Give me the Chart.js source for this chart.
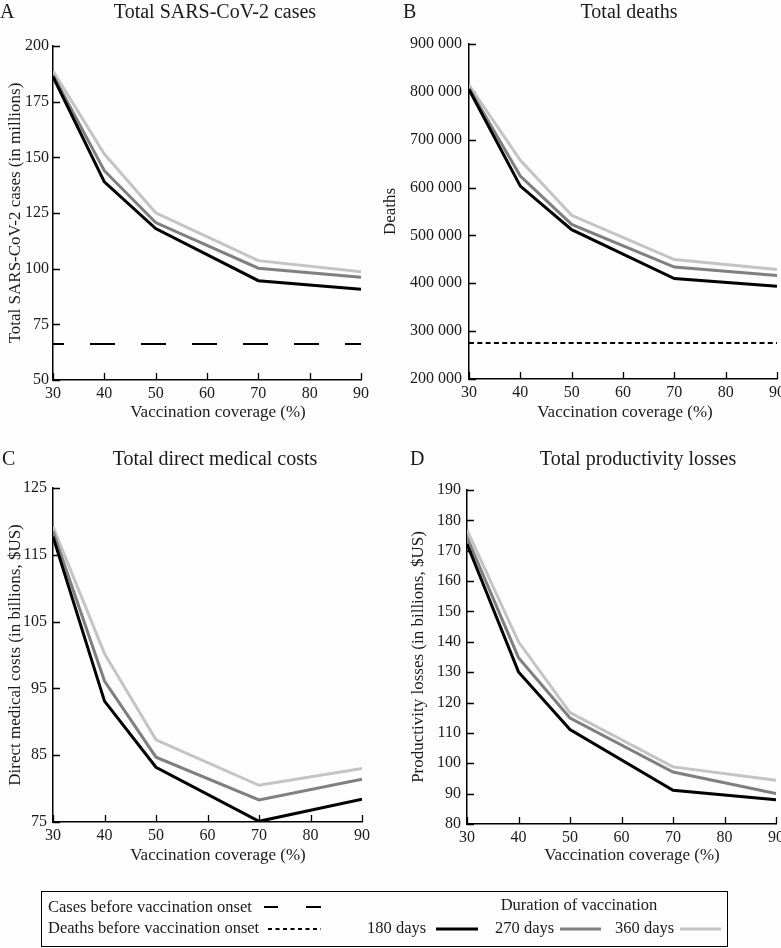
<!DOCTYPE html>
<html>
<head>
<meta charset="utf-8">
<script src="https://cdn.jsdelivr.net/npm/chart.js@4.4.1/dist/chart.umd.min.js"></script>
<style>
  html, body { margin: 0; padding: 0; background: #fdfdfd; overflow: hidden; }
  body { width: 781px; height: 948px; position: relative; font-family: "Liberation Serif", serif; color: #1a1a1a; }
  .panel { position: absolute; left: 0; top: 0; width: 800px; height: 948px; pointer-events: none; }
  #legendBox { position: absolute; left: 41px; top: 891px; width: 685px; height: 54px; border: 1.5px solid #000; }
  .lg { position: absolute; font-size: 16.5px; line-height: 20px; white-space: nowrap; }
  #legendLines { position: absolute; left: 0; top: 0; }
</style>
</head>
<body>
<div class="panel"><canvas id="chartA"></canvas></div>
<div class="panel"><canvas id="chartB"></canvas></div>
<div class="panel"><canvas id="chartC"></canvas></div>
<div class="panel"><canvas id="chartD"></canvas></div>

<div id="legendBox"></div>
<span class="lg" style="left:48px;top:897px">Cases before vaccination onset</span>
<span class="lg" style="left:48px;top:918px">Deaths before vaccination onset</span>
<span class="lg" style="left:579px;top:895px;transform:translateX(-50%)">Duration of vaccination</span>
<span class="lg" style="left:367px;top:918px">180 days</span>
<span class="lg" style="left:495px;top:918px">270 days</span>
<span class="lg" style="left:615px;top:918px">360 days</span>
<svg id="legendLines" width="781" height="948">
  <line x1="264" y1="907" x2="278" y2="907" stroke="#000" stroke-width="2"/>
  <line x1="306" y1="907" x2="321" y2="907" stroke="#000" stroke-width="2"/>
  <line x1="268" y1="929" x2="321" y2="929" stroke="#000" stroke-width="2" stroke-dasharray="4 3.5"/>
  <line x1="436" y1="929" x2="478" y2="929" stroke="#000" stroke-width="3"/>
  <line x1="560" y1="929" x2="601" y2="929" stroke="#7f7f7f" stroke-width="3"/>
  <line x1="680" y1="929" x2="721" y2="929" stroke="#c4c4c4" stroke-width="3"/>
</svg>

<script>
// Vaccination coverage (%) on the x axis
const coverage = [30, 40, 50, 70, 90];

// A: total cases (millions)
const cases180 = [186.2, 139.0, 118.0, 94.6, 90.7];
const cases270 = [187.0, 144.0, 120.7, 100.2, 96.1];
const cases360 = [188.8, 151.5, 125.1, 103.6, 98.6];
const casesBefore = 66.2;

// B: total deaths
const deaths180 = [805000, 603000, 512000, 410000, 394000];
const deaths270 = [808000, 624000, 523000, 434000, 416000];
const deaths360 = [814000, 657000, 542000, 449500, 428600];
const deathsBefore = 275000;

// C: direct medical costs (billions $US)
const medical180 = [117.7, 93.1, 83.2, 75.1, 78.4];
const medical270 = [118.5, 96.1, 84.7, 78.3, 81.4];
const medical360 = [119.2, 100.2, 87.3, 80.5, 83.0];

// D: productivity losses (billions $US)
const prod180 = [172.2, 130.1, 111.1, 91.1, 88.0];
const prod270 = [174.4, 134.8, 114.9, 97.1, 90.0];
const prod360 = [176.8, 140.0, 116.7, 98.8, 94.4];

const FONT = '"Liberation Serif", serif';
const COL180 = '#000000';
const COL270 = '#7f7f7f';
const COL360 = '#c4c4c4';

function pts(vals) {
    return vals.map((v, i) => ({ x: coverage[i], y: v }));
}

function flat(v) {
    return [{ x: coverage[0], y: v }, { x: coverage[coverage.length - 1], y: v }];
}

function seriesLine(label, vals, color) {
    return {
        label: label,
        data: pts(vals),
        borderColor: color,
        borderWidth: 3,
        pointRadius: 0,
        tension: 0,
        fill: false
    };
}

// titles, panel letter, x title and inward ticks
const panelText = {
    id: 'panelText',
    beforeDatasetsDraw(chart) {
        const ctx = chart.ctx;
        const a = chart.chartArea;
        const xs = chart.scales.x, ys = chart.scales.y;
        ctx.save();
        ctx.strokeStyle = '#000';
        ctx.lineWidth = 1.3;
        ctx.beginPath();
        ys.ticks.forEach(t => {
            const y = Math.round(ys.getPixelForValue(t.value)) + 0.5;
            ctx.moveTo(a.left, y);
            ctx.lineTo(a.left + 7, y);
        });
        xs.ticks.forEach(t => {
            const x = Math.round(xs.getPixelForValue(t.value)) + 0.5;
            ctx.moveTo(x, a.bottom);
            ctx.lineTo(x, a.bottom - 7);
        });
        ctx.stroke();
        ctx.restore();
    },
    afterDraw(chart, args, o) {
        const ctx = chart.ctx;
        ctx.save();
        ctx.fillStyle = '#1a1a1a';
        ctx.textBaseline = 'alphabetic';
        ctx.font = '20px ' + FONT;
        ctx.textAlign = 'left';
        ctx.fillText(o.letter, o.letterX, o.titleY);
        ctx.textAlign = 'center';
        ctx.fillText(o.title, o.titleX, o.titleY);
        ctx.font = '17px ' + FONT;
        ctx.fillText('Vaccination coverage (%)', o.xTitleX, o.xTitleY);
        ctx.restore();
    }
};

function spaced(v) {
    return String(v).replace(/\B(?=(\d{3})+(?!\d))/g, ' ');
}

function makePanel(id, p) {
    const padLeft = p.yTitleX - 12;
    new Chart(document.getElementById(id), {
        type: 'line',
        data: { datasets: p.datasets },
        options: {
            responsive: true,
            maintainAspectRatio: false,
            animation: false,
            events: [],
            layout: {
                padding: { left: padLeft, top: p.area.t, right: 800 - p.area.r, bottom: 948 - p.area.b - 30 }
            },
            scales: {
                x: {
                    type: 'linear',
                    min: 30,
                    max: 90,
                    ticks: { stepSize: 10, padding: 4, color: '#1a1a1a', font: { family: FONT, size: 16 }, maxRotation: 0 },
                    grid: { display: false, drawTicks: false },
                    border: { display: true, color: '#000', width: 1.5 },
                    afterFit(s) { s.height = 30; }
                },
                y: {
                    min: p.yMin,
                    max: p.yMax,
                    ticks: {
                        stepSize: p.yStep,
                        padding: p.tickPad,
                        color: '#1a1a1a',
                        font: { family: FONT, size: 16 },
                        callback: p.fmt || (v => v)
                    },
                    grid: { display: false, drawTicks: false },
                    border: { display: true, color: '#000', width: 1.5 },
                    title: {
                        display: true,
                        text: p.yTitle,
                        color: '#1a1a1a',
                        font: { family: FONT, size: 17 },
                        padding: { top: 2, bottom: 0 }
                    },
                    afterFit(s) { s.width = p.area.l - padLeft; }
                }
            },
            plugins: {
                legend: { display: false },
                tooltip: { enabled: false },
                panelText: p.text
            }
        },
        plugins: [panelText]
    });
}

makePanel('chartA', {
    area: { l: 53, t: 46, r: 361, b: 380 },
    yMin: 50, yMax: 200, yStep: 25, tickPad: 4,
    yTitle: 'Total SARS-CoV-2 cases (in millions)', yTitleX: 15,
    text: { letter: 'A', letterX: 0, title: 'Total SARS-CoV-2 cases', titleX: 215, titleY: 17.5, xTitleX: 218, xTitleY: 417 },
    datasets: [
        seriesLine('180 days', cases180, COL180),
        seriesLine('270 days', cases270, COL270),
        seriesLine('360 days', cases360, COL360),
        { label: 'Cases before vaccination onset', data: flat(casesBefore), borderColor: '#000', borderWidth: 2,
          borderDash: [25, 26], borderDashOffset: 14, pointRadius: 0 }
    ]
});

makePanel('chartB', {
    area: { l: 469, t: 44, r: 777, b: 379 },
    yMin: 200000, yMax: 900000, yStep: 100000, tickPad: 7, fmt: spaced,
    yTitle: 'Deaths', yTitleX: 390,
    text: { letter: 'B', letterX: 403, title: 'Total deaths', titleX: 629, titleY: 17.5, xTitleX: 625, xTitleY: 417 },
    datasets: [
        seriesLine('180 days', deaths180, COL180),
        seriesLine('270 days', deaths270, COL270),
        seriesLine('360 days', deaths360, COL360),
        { label: 'Deaths before vaccination onset', data: flat(deathsBefore), borderColor: '#000', borderWidth: 2,
          borderDash: [5, 3.3], pointRadius: 0 }
    ]
});

makePanel('chartC', {
    area: { l: 53, t: 488, r: 362, b: 822 },
    yMin: 75, yMax: 125, yStep: 10, tickPad: 6,
    yTitle: 'Direct medical costs (in billions, $US)', yTitleX: 15,
    text: { letter: 'C', letterX: 2, title: 'Total direct medical costs', titleX: 215, titleY: 465, xTitleX: 218, xTitleY: 860 },
    datasets: [
        seriesLine('180 days', medical180, COL180),
        seriesLine('270 days', medical270, COL270),
        seriesLine('360 days', medical360, COL360)
    ]
});

makePanel('chartD', {
    area: { l: 467, t: 490, r: 776, b: 824 },
    yMin: 80, yMax: 190, yStep: 10, tickPad: 6,
    yTitle: 'Productivity losses (in billions, $US)', yTitleX: 418,
    text: { letter: 'D', letterX: 410, title: 'Total productivity losses', titleX: 638, titleY: 465, xTitleX: 632, xTitleY: 860 },
    datasets: [
        seriesLine('180 days', prod180, COL180),
        seriesLine('270 days', prod270, COL270),
        seriesLine('360 days', prod360, COL360)
    ]
});
</script>
</body>
</html>
